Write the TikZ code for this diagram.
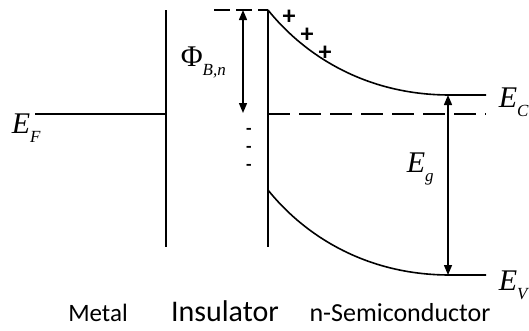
\documentclass[tikz,border=0pt]{standalone}
\usepackage{fontspec}
\setmainfont{Carlito}
\newfontfamily\tnr{Liberation Serif}
\usetikzlibrary{arrows.meta}

\newcommand{\lvl}[2]{{\tnr\fontsize{30}{30}\selectfont #1\raisebox{-9pt}{\fontsize{17}{17}\selectfont\itshape #2}}}

\begin{document}
\begin{tikzpicture}[x=1pt, y=-1pt, line width=1.6pt,
  every node/.style={inner sep=0pt},
  level/.style={anchor=base west},
  region/.style={anchor=base},
  minus/.style={font=\fontsize{18}{18}\selectfont\bfseries},
  plus/.style={font=\fontsize{26}{26}\selectfont\bfseries},
  gap/.style={{Triangle[length=10pt,width=8pt]}-{Triangle[length=10pt,width=8pt]}, line width=1.4pt}]

\useasboundingbox (0,0) rectangle (529,330);

% interfaces
\coordinate (mtop) at (166,10);
\coordinate (mbot) at (166,247);
\coordinate (stop) at (268,10);
\coordinate (sbot) at (268,247);
\draw (mtop) -- (mbot);
\draw (stop) -- (sbot);

% Fermi level
\node (ef) [level] at (11,133) {\lvl{\itshape E}{F}};
\coordinate (efl) at (35,114);
\coordinate (efm) at (166,114);
\draw (efl) -- (efm);
\coordinate (efs) at (268,114);
\coordinate (efe) at (486,114);
\draw[dash pattern=on 22pt off 9pt] (efs) -- (efe);

% barrier top
\coordinate (btop) at (214,10);
\draw[dash pattern=on 16pt off 6pt] (btop) -- (stop);

% conduction band
\coordinate (ecr) at (486,95);
\draw (stop) .. controls (300,50) and (360,95) .. (450,95) -- (ecr);
\node (ec) [level] at (498,107) {\lvl{\itshape E}{C}};

% valence band
\coordinate (evl) at (268,190);
\coordinate (evr) at (486,275);
\draw (evl) .. controls (300,230) and (360,275) .. (450,275) -- (evr);
\node (ev) [level] at (498,290) {\lvl{\itshape E}{V}};

% barrier height
\coordinate (phit) at (243,10);
\coordinate (phib) at (243,113);
\draw[gap] (phit) -- (phib);
\node (phi) [level] at (180,66) {\lvl{Φ}{B,n}};

% band gap
\coordinate (egt) at (448,95);
\coordinate (egb) at (448,275);
\draw[gap] (egt) -- (egb);
\node (eg) [level] at (406,172) {\lvl{\itshape E}{g}};

% charges
\node (m1) [minus] at (249,131) {-};
\node (m2) [minus] at (249,149) {-};
\node (m3) [minus] at (249,167) {-};
\node (p1) [plus] at (289,17) {+};
\node (p2) [plus] at (307,35) {+};
\node (p3) [plus] at (325,53) {+};

% regions
\node (metal) [region, font=\fontsize{25}{25}\selectfont] at (98,321) {Metal};
\node (ins) [region, font=\fontsize{30}{30}\selectfont] at (225,321) {Insulator};
\node (semi) [region, font=\fontsize{26}{26}\selectfont] at (400,321) {n-Semiconductor};
\end{tikzpicture}
\end{document}
